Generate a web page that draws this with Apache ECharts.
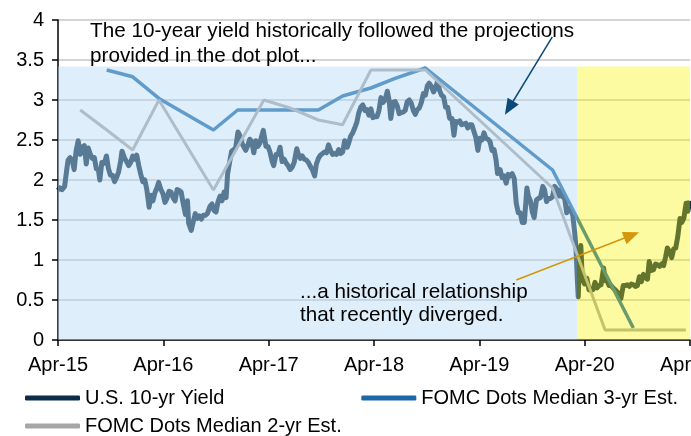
<!DOCTYPE html>
<html>
<head>
<meta charset="utf-8">
<script src="https://cdn.jsdelivr.net/npm/echarts@6/dist/echarts.min.js"></script>
<style>
  html, body { margin: 0; padding: 0; background: #fff; }
  #chart { width: 691px; height: 436px; }
</style>
</head>
<body>
<div id="chart"></div>
<script>
// x ticks: one per April
const xTicks = ["Apr-15", "Apr-16", "Apr-17", "Apr-18", "Apr-19", "Apr-20", "Apr-21"];

// U.S. 10-yr Yield
const tenYr = [
  ["2015-04-01",1.87],["2015-04-08",1.90],["2015-04-15",1.88],["2015-04-24",1.92],["2015-05-01",2.12],["2015-05-06",2.25],
  ["2015-05-13",2.28],["2015-05-20",2.25],["2015-05-27",2.13],["2015-06-03",2.37],["2015-06-10",2.49],["2015-06-17",2.32],
  ["2015-06-24",2.41],["2015-07-01",2.43],["2015-07-08",2.20],["2015-07-15",2.40],["2015-07-22",2.32],["2015-07-29",2.27],
  ["2015-08-05",2.28],["2015-08-12",2.14],["2015-08-19",2.13],["2015-08-24",2.00],["2015-08-31",2.22],["2015-09-09",2.21],
  ["2015-09-16",2.30],["2015-09-23",2.14],["2015-09-30",2.06],["2015-10-07",2.06],["2015-10-14",1.98],["2015-10-21",2.03],
  ["2015-10-28",2.10],["2015-11-04",2.23],["2015-11-09",2.36],["2015-11-18",2.27],["2015-11-25",2.23],["2015-12-02",2.18],
  ["2015-12-09",2.22],["2015-12-16",2.30],["2015-12-23",2.26],["2015-12-30",2.31],
  ["2016-01-06",2.18],["2016-01-13",2.07],["2016-01-20",1.98],["2016-01-27",2.00],["2016-02-03",1.88],["2016-02-11",1.66],
  ["2016-02-17",1.81],["2016-02-24",1.74],["2016-03-02",1.84],["2016-03-09",1.90],["2016-03-15",1.97],["2016-03-23",1.88],
  ["2016-03-30",1.83],["2016-04-06",1.72],["2016-04-13",1.77],["2016-04-20",1.86],["2016-04-27",1.85],["2016-05-04",1.78],
  ["2016-05-11",1.74],["2016-05-18",1.88],["2016-05-25",1.87],["2016-06-01",1.85],["2016-06-08",1.71],["2016-06-16",1.57],
  ["2016-06-23",1.74],["2016-06-27",1.46],["2016-07-06",1.37],["2016-07-13",1.48],["2016-07-20",1.58],["2016-07-27",1.52],
  ["2016-08-03",1.55],["2016-08-10",1.51],["2016-08-17",1.56],["2016-08-24",1.56],["2016-08-31",1.58],["2016-09-09",1.67],
  ["2016-09-16",1.70],["2016-09-23",1.62],["2016-09-30",1.60],["2016-10-07",1.73],["2016-10-14",1.80],["2016-10-21",1.74],
  ["2016-10-28",1.85],["2016-11-04",1.78],["2016-11-09",2.07],["2016-11-16",2.22],["2016-11-23",2.36],["2016-11-30",2.38],
  ["2016-12-07",2.40],["2016-12-15",2.60],["2016-12-22",2.55],["2016-12-30",2.45],
  ["2017-01-04",2.45],["2017-01-11",2.37],["2017-01-18",2.43],["2017-01-25",2.51],["2017-02-01",2.48],["2017-02-08",2.34],
  ["2017-02-15",2.49],["2017-02-22",2.42],["2017-03-01",2.46],["2017-03-08",2.56],["2017-03-13",2.62],["2017-03-22",2.42],
  ["2017-03-29",2.42],["2017-04-05",2.35],["2017-04-12",2.24],["2017-04-18",2.18],["2017-04-26",2.32],["2017-05-03",2.32],
  ["2017-05-10",2.41],["2017-05-17",2.23],["2017-05-24",2.26],["2017-05-31",2.21],["2017-06-07",2.18],["2017-06-14",2.13],
  ["2017-06-21",2.16],["2017-06-28",2.22],["2017-07-07",2.39],["2017-07-12",2.33],["2017-07-19",2.27],["2017-07-26",2.30],
  ["2017-08-02",2.26],["2017-08-09",2.25],["2017-08-16",2.22],["2017-08-23",2.17],["2017-08-30",2.13],["2017-09-07",2.05],
  ["2017-09-13",2.20],["2017-09-20",2.27],["2017-09-27",2.31],["2017-10-04",2.33],["2017-10-11",2.35],["2017-10-18",2.34],
  ["2017-10-25",2.44],["2017-11-01",2.37],["2017-11-08",2.32],["2017-11-15",2.33],["2017-11-22",2.32],["2017-11-29",2.38],
  ["2017-12-06",2.33],["2017-12-13",2.35],["2017-12-20",2.49],["2017-12-29",2.41],
  ["2018-01-03",2.46],["2018-01-10",2.55],["2018-01-17",2.59],["2018-01-24",2.65],["2018-01-31",2.72],["2018-02-07",2.84],
  ["2018-02-14",2.91],["2018-02-21",2.94],["2018-02-28",2.87],["2018-03-07",2.88],["2018-03-14",2.81],["2018-03-21",2.89],
  ["2018-03-28",2.78],["2018-04-04",2.79],["2018-04-11",2.79],["2018-04-18",2.87],["2018-04-25",3.03],["2018-05-02",2.97],
  ["2018-05-09",3.00],["2018-05-17",3.11],["2018-05-23",3.00],["2018-05-29",2.77],["2018-06-06",2.97],["2018-06-13",2.98],
  ["2018-06-20",2.93],["2018-06-27",2.83],["2018-07-04",2.84],["2018-07-11",2.85],["2018-07-18",2.87],["2018-07-25",2.98],
  ["2018-08-01",3.00],["2018-08-08",2.96],["2018-08-15",2.87],["2018-08-22",2.82],["2018-08-29",2.88],["2018-09-05",2.90],
  ["2018-09-12",2.97],["2018-09-19",3.08],["2018-09-26",3.06],["2018-10-03",3.18],["2018-10-09",3.21],["2018-10-17",3.17],
  ["2018-10-24",3.10],["2018-10-31",3.15],["2018-11-08",3.24],["2018-11-14",3.12],["2018-11-21",3.06],["2018-11-28",3.04],
  ["2018-12-05",2.91],["2018-12-12",2.91],["2018-12-19",2.77],["2018-12-27",2.77],
  ["2019-01-03",2.56],["2019-01-09",2.73],["2019-01-16",2.72],["2019-01-23",2.74],["2019-01-30",2.69],["2019-02-06",2.70],
  ["2019-02-13",2.71],["2019-02-20",2.65],["2019-02-27",2.69],["2019-03-06",2.69],["2019-03-13",2.61],["2019-03-20",2.53],
  ["2019-03-27",2.37],["2019-04-03",2.52],["2019-04-10",2.50],["2019-04-17",2.59],["2019-04-24",2.52],["2019-05-01",2.51],
  ["2019-05-08",2.48],["2019-05-15",2.37],["2019-05-22",2.38],["2019-05-29",2.25],["2019-06-03",2.08],["2019-06-12",2.13],
  ["2019-06-19",2.03],["2019-06-26",2.05],["2019-07-03",1.96],["2019-07-10",2.07],["2019-07-17",2.05],["2019-07-24",2.08],
  ["2019-07-31",2.02],["2019-08-07",1.71],["2019-08-14",1.59],["2019-08-21",1.59],["2019-08-28",1.47],["2019-09-04",1.47],
  ["2019-09-13",1.90],["2019-09-18",1.80],["2019-09-25",1.74],["2019-10-02",1.60],["2019-10-08",1.53],["2019-10-16",1.75],
  ["2019-10-23",1.77],["2019-10-30",1.78],["2019-11-07",1.92],["2019-11-13",1.88],["2019-11-20",1.73],["2019-11-27",1.77],
  ["2019-12-04",1.77],["2019-12-11",1.79],["2019-12-18",1.92],["2019-12-27",1.88],
  ["2020-01-03",1.80],["2020-01-08",1.87],["2020-01-15",1.79],["2020-01-22",1.77],["2020-01-29",1.59],["2020-02-05",1.65],
  ["2020-02-12",1.63],["2020-02-19",1.56],["2020-02-26",1.33],["2020-03-02",1.09],["2020-03-06",0.74],["2020-03-09",0.54],
  ["2020-03-12",0.88],["2020-03-18",1.18],["2020-03-23",0.76],["2020-03-31",0.70],["2020-04-08",0.77],["2020-04-15",0.63],
  ["2020-04-22",0.62],["2020-04-29",0.63],["2020-05-06",0.72],["2020-05-13",0.65],["2020-05-20",0.68],["2020-05-27",0.69],
  ["2020-06-05",0.90],["2020-06-10",0.74],["2020-06-17",0.74],["2020-06-24",0.68],["2020-07-01",0.68],["2020-07-08",0.65],
  ["2020-07-15",0.63],["2020-07-22",0.60],["2020-07-29",0.58],["2020-08-04",0.52],["2020-08-12",0.68],["2020-08-19",0.68],
  ["2020-08-26",0.69],["2020-09-02",0.67],["2020-09-09",0.70],["2020-09-16",0.69],["2020-09-23",0.67],["2020-09-30",0.68],
  ["2020-10-07",0.79],["2020-10-14",0.73],["2020-10-21",0.82],["2020-10-28",0.78],["2020-11-04",0.76],["2020-11-10",0.98],
  ["2020-11-18",0.87],["2020-11-25",0.88],["2020-12-02",0.95],["2020-12-09",0.94],["2020-12-16",0.92],["2020-12-23",0.95],
  ["2020-12-30",0.93],
  ["2021-01-06",1.04],["2021-01-12",1.15],["2021-01-20",1.10],["2021-01-27",1.03],["2021-02-03",1.14],["2021-02-10",1.15],
  ["2021-02-17",1.29],["2021-02-25",1.52],["2021-03-03",1.47],["2021-03-10",1.52],["2021-03-18",1.71],["2021-03-24",1.61],
  ["2021-03-31",1.74]
];

// FOMC Dots Median 3-yr Est.
const dots3yr = [
  ["2015-09-17",3.375],["2015-12-16",3.29],["2016-03-16",3.02],["2016-09-21",2.625],["2016-12-14",2.875],
  ["2017-09-20",2.875],["2017-12-13",3.05],["2018-03-21",3.15],["2018-06-13",3.27],["2018-09-26",3.4],
  ["2019-12-11",2.125],["2020-09-16",0.15]
];

// FOMC Dots Median 2-yr Est.
const dots2yr = [
  ["2015-06-17",2.875],["2015-09-17",2.625],["2015-12-16",2.375],["2016-03-16",3.0],["2016-09-21",1.875],
  ["2017-03-15",3.0],["2017-06-14",2.9],["2017-09-20",2.75],["2017-12-13",2.69],["2018-03-21",3.375],
  ["2018-06-13",3.375],["2018-09-26",3.375],["2019-12-11",1.9],["2020-06-10",0.125],["2020-09-16",0.125],
  ["2020-12-16",0.125],["2021-03-17",0.125]
];

const font = "'Liberation Sans', Arial, sans-serif";
const start = Date.parse("2015-04-01");
function toYears(d) {
  return (Date.parse(d) - start) / (365.25 * 86400000);
}
function toPts(arr) {
  return arr.map(p => [toYears(p[0]), p[1]]);
}

let myChart = echarts.init(document.getElementById("chart"));
let option = {
  animation: false,
  textStyle: { fontFamily: font },
  grid: { left: 58, right: 1, top: 20, bottom: 96, containLabel: false, outerBoundsMode: "none" },
  legend: [
    {
      data: ["U.S. 10-yr Yield", "FOMC Dots Median 3-yr Est."],
      left: 20, top: 383, icon: "roundRect", itemWidth: 55, itemHeight: 5, itemGap: 137,
      textStyle: { fontSize: 20, color: "#000", fontFamily: font }
    },
    {
      data: ["FOMC Dots Median 2-yr Est."],
      left: 20, top: 411, icon: "roundRect", itemWidth: 55, itemHeight: 5,
      textStyle: { fontSize: 20, color: "#000", fontFamily: font }
    }
  ],
  xAxis: {
    type: "value", min: 0, max: 6, interval: 1,
    axisLine: { lineStyle: { color: "#000", width: 1.5 } },
    axisTick: { show: true, length: 6, lineStyle: { color: "#000", width: 1.5 } },
    axisLabel: { fontSize: 20, color: "#000", margin: 15, formatter: v => xTicks[Math.round(v)] },
    splitLine: { show: false }
  },
  yAxis: {
    type: "value", min: 0, max: 4, interval: 0.5,
    axisLine: { show: true, lineStyle: { color: "#000", width: 1.5 } },
    axisTick: { show: true, length: 6, lineStyle: { color: "#000", width: 1.5 } },
    axisLabel: { fontSize: 20, color: "#000", margin: 14 },
    splitLine: { lineStyle: { color: "#d4d4d4", width: 2 } }
  },
  graphic: [
    { type: "text", zlevel: 3, left: 90, top: 19, style: { text: "The 10-year yield historically followed the projections\nprovided in the dot plot...", font: "20.7px " + font, fill: "#000", lineHeight: 25 } },
    { type: "text", zlevel: 3, left: 300, top: 281, style: { text: "...a historical relationship\nthat recently diverged.", font: "20.7px " + font, fill: "#000", lineHeight: 23 } }
  ],
  series: [
    {
      name: "U.S. 10-yr Yield", type: "line", data: toPts(tenYr), showSymbol: false, z: 3,
      itemStyle: { color: "#0c2c47" }, lineStyle: { color: "#0c2c47", width: 5, join: "round" }
    },
    {
      name: "FOMC Dots Median 3-yr Est.", type: "line", data: toPts(dots3yr), showSymbol: false, z: 4,
      itemStyle: { color: "#1a68a8" }, lineStyle: { color: "#1a68a8", width: 3.5 }
    },
    {
      name: "FOMC Dots Median 2-yr Est.", type: "line", data: toPts(dots2yr), showSymbol: false, z: 5,
      itemStyle: { color: "#a6a6a6" }, lineStyle: { color: "#a6a6a6", width: 3 }
    },
    {
      // translucent shading drawn over the lines (own layer)
      name: "shade", type: "line", data: [], zlevel: 1, z: 10, silent: true,
      markArea: {
        silent: true, zlevel: 1, z: 10,
        data: [
          [{ xAxis: 0, yAxis: 0, itemStyle: { color: "rgba(182,218,244,0.45)" } }, { xAxis: toYears("2020-03-05"), yAxis: 3.42 }],
          [{ xAxis: toYears("2020-03-05"), yAxis: 0, itemStyle: { color: "rgba(250,245,0,0.37)" } }, { xAxis: 6, yAxis: 3.42 }]
        ]
      }
    },
    {
      name: "arrows", type: "line", data: [], zlevel: 2, z: 20, silent: true,
      markLine: {
        silent: true, zlevel: 2, z: 20, symbol: ["none", "triangle"], symbolSize: [13, 16],
        label: { show: false },
        data: [
          [{ coord: [toYears("2019-12-10"), 3.79], lineStyle: { color: "#0b4a78", width: 1.5, type: "solid" } }, { coord: [toYears("2019-07-13"), 2.9] }],
          [{ coord: [toYears("2019-08-07"), 0.75], lineStyle: { color: "#d4960a", width: 1.5, type: "solid" } }, { coord: [toYears("2020-09-10"), 1.31] }]
        ]
      }
    }
  ]
};
myChart.setOption(option);
</script>
</body>
</html>
